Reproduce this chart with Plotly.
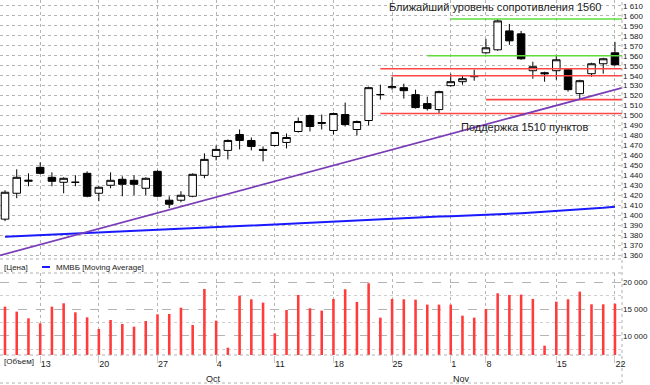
import plotly.graph_objects as go

# ---------------- data ----------------
dates = [
    "2010-09-08", "2010-09-09", "2010-09-10",
    "2010-09-13", "2010-09-14", "2010-09-15", "2010-09-16", "2010-09-17",
    "2010-09-20", "2010-09-21", "2010-09-22", "2010-09-23", "2010-09-24",
    "2010-09-27", "2010-09-28", "2010-09-29", "2010-09-30", "2010-10-01",
    "2010-10-04", "2010-10-05", "2010-10-06", "2010-10-07", "2010-10-08",
    "2010-10-11", "2010-10-12", "2010-10-13", "2010-10-14", "2010-10-15",
    "2010-10-18", "2010-10-19", "2010-10-20", "2010-10-21", "2010-10-22",
    "2010-10-25", "2010-10-26", "2010-10-27", "2010-10-28", "2010-10-29",
    "2010-11-01", "2010-11-02", "2010-11-03",
    "2010-11-08", "2010-11-09", "2010-11-10", "2010-11-11", "2010-11-12", "2010-11-13",
    "2010-11-15", "2010-11-16", "2010-11-17", "2010-11-18", "2010-11-19",
    "2010-11-22",
]

opens = [1396, 1422, 1434, 1448, 1438, 1433, 1433, 1442, 1422, 1430, 1436, 1435, 1427,
         1444, 1415, 1415, 1419, 1440, 1459, 1465, 1481, 1475, 1466, 1470, 1473, 1484,
         1500, 1492, 1485, 1501, 1486, 1495, 1521, 1528, 1528, 1521, 1512, 1506, 1530,
         1534, 1539, 1563, 1566, 1585, 1582, 1545, 1543, 1545, 1546, 1522, 1542, 1552, 1563]
highs = [1425, 1446, 1442, 1453, 1443, 1438, 1440, 1444, 1429, 1443, 1439, 1440, 1438,
         1445, 1419, 1424, 1442, 1462, 1470, 1476, 1486, 1478, 1469, 1484, 1482, 1498,
         1501, 1501, 1503, 1513, 1495, 1529, 1531, 1539, 1532, 1526, 1519, 1525, 1542,
         1540, 1546, 1577, 1597, 1592, 1585, 1554, 1544, 1561, 1547, 1536, 1553, 1558, 1574]
lows = [1394, 1417, 1429, 1441, 1429, 1422, 1429, 1418, 1414, 1427, 1419, 1420, 1420,
        1418, 1407, 1413, 1418, 1437, 1455, 1456, 1466, 1465, 1454, 1469, 1467, 1483,
        1484, 1486, 1481, 1489, 1480, 1490, 1516, 1526, 1517, 1507, 1505, 1502, 1529,
        1531, 1535, 1562, 1565, 1571, 1556, 1537, 1534, 1536, 1524, 1516, 1539, 1542, 1550]
closes = [1423, 1438, 1435, 1442, 1434, 1437, 1433, 1419, 1428, 1435, 1431, 1431, 1437,
          1419, 1411, 1420, 1441, 1456, 1466, 1475, 1475, 1469, 1465, 1483, 1478, 1494,
          1489, 1493, 1502, 1491, 1494, 1528, 1521, 1529, 1525, 1508, 1507, 1524, 1534,
          1537, 1540, 1568, 1595, 1575, 1557, 1549, 1542, 1556, 1526, 1535, 1552, 1557, 1551]

ma_values = [1378.3, 1378.8, 1379.3, 1379.8, 1380.3, 1380.8, 1381.3, 1381.8, 1382.3, 1382.8,
             1383.3, 1383.8, 1384.3, 1384.8, 1385.4, 1386.0, 1386.6, 1387.2, 1387.8, 1388.4,
             1389.0, 1389.6, 1390.2, 1390.8, 1391.4, 1392.0, 1392.6, 1393.2, 1393.8, 1394.4,
             1395.0, 1395.6, 1396.2, 1396.8, 1397.3, 1397.8, 1398.2, 1398.6, 1399.0, 1399.4,
             1399.8, 1400.3, 1400.8, 1401.4, 1402.0, 1402.6, 1403.3, 1404.0, 1404.8, 1405.6,
             1406.5, 1407.4, 1408.5]

volumes = [15500, 14560, 13310, 12375, 15500, 16125, 14440, 13500, 11310, 13000,
           12250, 11750, 12810, 14060, 14125, 15310, 12060, 18810, 12875, 7810,
           17560, 16875, 16250, 10500, 14875, 17690, 15190, 14750, 16940, 18750,
           16375, 19875, 13440, 16940, 16875, 16810, 15875, 15875, 15875, 13810,
           13440, 15060, 18000, 17690, 17750, 16940, 8190, 16440, 16875, 18310,
           15940, 15940, 16060]

week_ticks = ["2010-09-13", "2010-09-20", "2010-09-27", "2010-10-04", "2010-10-11",
              "2010-10-18", "2010-10-25", "2010-11-01", "2010-11-08", "2010-11-15",
              "2010-11-22"]
week_labels = ["13", "20", "27", "4", "11", "18", "25", "1", "8", "15", "22"]
month_starts = ["2010-10-01", "2010-11-01"]
month_labels = ["Oct", "Nov"]

# horizontal resistance / support levels
level_values = [1597, 1560, 1547, 1540, 1516, 1502]
level_starts = ["2010-11-01", "2010-10-28", "2010-10-22", "2010-10-25", "2010-11-08", "2010-10-22"]
level_kinds = ["res", "res", "sup", "sup", "sup", "sup"]

# trend line anchor points
trend_dates = ["2010-09-08", "2010-11-22"]
trend_values = [1361, 1526]

# ---------------- figure ----------------
W, H = 650, 385
ML, MR, MT, MB = 0, 28, 0, 30
PH = H - MT - MB  # plot area height in px


def py(pix):
    """pixel row -> paper y"""
    return 1 - (pix - MT) / PH


XR = [-0.426, 52.6]
FONT = "Liberation Sans"
TXT = "#222222"

fig = go.Figure()

fig.add_trace(go.Candlestick(
    x=dates, open=opens, high=highs, low=lows, close=closes,
    increasing=dict(line=dict(color="black", width=1), fillcolor="white"),
    decreasing=dict(line=dict(color="black", width=1), fillcolor="black"),
    whiskerwidth=0, xaxis="x", yaxis="y", showlegend=False, hoverinfo="skip",
))
fig.add_trace(go.Scatter(
    x=dates, y=ma_values, mode="lines", line=dict(color="#1a1aff", width=2),
    xaxis="x", yaxis="y", showlegend=False, hoverinfo="skip",
))
fig.add_trace(go.Bar(
    x=dates, y=volumes, marker=dict(color="#ff3c3c", line=dict(width=0)), width=0.22,
    xaxis="x2", yaxis="y2", showlegend=False, hoverinfo="skip",
))

shapes = []
# support / resistance levels
for v, s, k in zip(level_values, level_starts, level_kinds):
    shapes.append(dict(
        type="line", xref="x", yref="y", x0=dates.index(s), x1=XR[1], y0=v, y1=v,
        line=dict(color="#5ddc3c" if k == "res" else "#ff4646", width=1.6), layer="above",
    ))
# trend line, extended to the plot edges
i0, i1 = dates.index(trend_dates[0]), dates.index(trend_dates[1])
slope = (trend_values[1] - trend_values[0]) / (i1 - i0)
shapes.append(dict(
    type="line", xref="x", yref="y",
    x0=XR[0], y0=trend_values[0] + slope * (XR[0] - i0),
    x1=XR[1], y1=trend_values[0] + slope * (XR[1] - i0),
    line=dict(color="#7a3db8", width=1.8), layer="above",
))
# panel separators (dotted)
for pix in [259, 273, 355, 383]:
    shapes.append(dict(type="line", xref="paper", yref="paper", x0=0, x1=1,
                       y0=py(pix), y1=py(pix),
                       line=dict(color="#b0b0b0", width=1, dash="dot")))
shapes.append(dict(type="line", xref="paper", yref="paper", x0=1, x1=1,
                   y0=py(383), y1=1, line=dict(color="#b0b0b0", width=1, dash="dot")))
# legend dash for MA
shapes.append(dict(type="line", xref="paper", yref="paper", x0=42 / 622, x1=50 / 622,
                   y0=py(267), y1=py(267), line=dict(color="#1a1aff", width=2)))

annotations = [
    dict(text="Ближайший уровень сопротивления 1560", xref="x", yref="y", x=41.8, y=1609,
         showarrow=False, font=dict(family=FONT, size=11, color=TXT)),
    dict(text="Поддержка 1510 пунктов", xref="x", yref="y", x=44.3, y=1488.5,
         showarrow=False, font=dict(family=FONT, size=11, color=TXT)),
    dict(text="[Цена]", xref="paper", yref="paper", x=2 / 622, y=py(267), xanchor="left",
         yanchor="middle", showarrow=False, font=dict(family=FONT, size=8, color=TXT)),
    dict(text="ММВБ [Moving Average]", xref="paper", yref="paper", x=54 / 622, y=py(267),
         xanchor="left", yanchor="middle", showarrow=False,
         font=dict(family=FONT, size=8, color=TXT)),
    dict(text="[Объем]", xref="paper", yref="paper", x=2 / 622, y=py(361), xanchor="left",
         yanchor="middle", showarrow=False, font=dict(family=FONT, size=8, color=TXT)),
]
for m, lab in zip(month_starts, month_labels):
    annotations.append(dict(text=lab, xref="x2", yref="paper", x=m, y=py(379),
                            xanchor="left", yanchor="middle", showarrow=False,
                            font=dict(family=FONT, size=9, color=TXT)))

grid = "#b4b4b4"
fig.update_layout(
    width=W, height=H,
    margin=dict(l=ML, r=MR, t=MT, b=MB),
    paper_bgcolor="white", plot_bgcolor="white",
    separators=". ",
    font=dict(family=FONT, size=8, color=TXT),
    showlegend=False,
    xaxis=dict(domain=[0, 1], anchor="y", type="category", range=XR,
               tickvals=week_ticks, showticklabels=False, ticks="",
               showgrid=True, gridcolor=grid, griddash="dot", gridwidth=1,
               zeroline=False, showline=False, rangeslider=dict(visible=False)),
    yaxis=dict(domain=[py(258), 1], anchor="x", side="right", range=[1357, 1616],
               tick0=1360, dtick=10, tickformat=",d", ticks="",
               tickfont=dict(family=FONT, size=8, color=TXT),
               showgrid=True, gridcolor=grid, griddash="dot", zeroline=False),
    xaxis2=dict(domain=[0, 1], anchor="y2", type="category", matches="x", range=XR,
                tickvals=week_ticks, ticktext=week_labels,
                ticklabelposition="outside right",
                ticks="outside", ticklen=7, tickcolor="#c8c8c8",
                tickfont=dict(family=FONT, size=9, color=TXT),
                showgrid=True, gridcolor=grid, griddash="dot", zeroline=False),
    yaxis2=dict(domain=[0, py(273)], anchor="x2", side="right", range=[6440, 21800],
                tick0=0, dtick=5000, tickformat=",d", ticks="",
                tickfont=dict(family=FONT, size=8, color=TXT),
                showgrid=True, gridcolor=grid, griddash="dash", zeroline=False,
                minor=dict(dtick=2500, tick0=0, showgrid=True, gridcolor="#cfcfcf",
                           griddash="dot")),
    boxgap=0.2, boxgroupgap=0.2,
    shapes=shapes, annotations=annotations,
)

fig.write_html("out.html", config={"displayModeBar": False},
               post_script="document.body.style.margin='0';")
